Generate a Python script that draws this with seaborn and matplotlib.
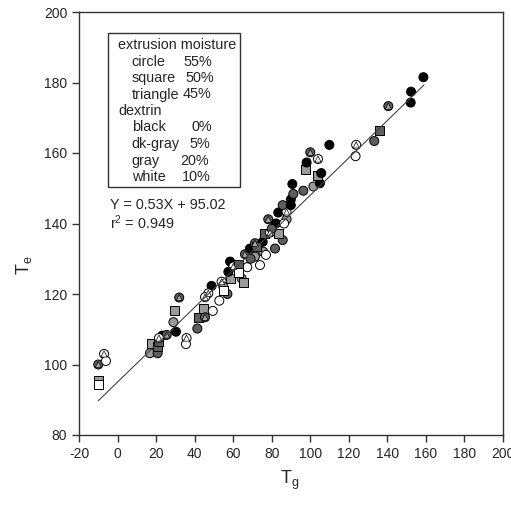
import matplotlib
matplotlib.use("Agg")
import matplotlib.pyplot as plt
import seaborn as sns
import pandas as pd
import numpy as np
from matplotlib.patches import Rectangle

sns.set_style("white")
plt.rcParams['font.family'] = ['Liberation Sans', 'DejaVu Sans']
plt.rcParams['mathtext.default'] = 'regular'
plt.rcParams['axes.unicode_minus'] = False

# ---- data ----
tg = [-10, -7, -6, -10, -10, 17.7, 16.8, 20.8, 20.8, 21.2, 23.2, 25.5, 21.5, 29, 29.5,
      32, 30.3, 35.8, 35.5, 41.4, 44.5, 49.4, 41.9, 45.4, 48.8, 47.1, 52.8, 57, 54, 54.9,
      58.4, 64.4, 65.3, 58.4, 60.1, 57.5, 67.3, 73.9, 71.3, 75.6, 77, 66.1, 68.7, 71.3, 75.3,
      81.7, 85.7, 76, 79.1, 83.4, 78.2, 82.2, 87.7, 86.4, 83.4, 87.7, 85.7, 89.9, 89.9, 91.2,
      90.7, 96.4, 101.6, 105, 103.6, 105.7, 97.6, 98.1, 104, 100, 109.9, 123.8, 123.5, 133.2,
      135.8, 140.5, 152.1, 152.3, 158.7, 63, 69, 72, 80, 63, 55, 45.4]
te = [100, 103, 101, 95.5, 94.3, 106, 103.2, 103.2, 105, 106.5, 108.2, 108.4, 107.5, 112, 115.2,
      119, 109.3, 107.5, 105.8, 110.2, 115.9, 115.2, 113.4, 113.4, 122.3, 120.2, 118.1, 120, 123.5, 122.1,
      124.4, 124.4, 123.2, 129.2, 127.8, 126.3, 127.6, 128.2, 130.6, 132, 131.1, 131.3, 132.9, 134.4, 134.8,
      132.9, 135.3, 137.2, 137.4, 137.2, 141.2, 140, 141.2, 140, 143.1, 143.3, 145.2, 145.2, 146.8, 148.4,
      151.2, 149.3, 150.5, 151.4, 153.5, 154.3, 155.4, 157.3, 158.3, 160.2, 162.3, 162.3, 159.1, 163.4,
      166.3, 173.3, 174.3, 177.4, 181.5, 128.5, 130, 133.5, 138.5, 126, 121, 119.1]
moisture = ['t', 't', 'c', 's', 's', 's', 'c', 'c', 's', 's', 'c', 't', 't', 'c', 's',
            't', 'c', 't', 'c', 'c', 's', 'c', 's', 't', 'c', 't', 'c', 'c', 't', 'c',
            's', 'c', 's', 'c', 't', 'c', 'c', 'c', 'c', 'c', 'c', 't', 'c', 't', 'c',
            'c', 'c', 's', 't', 's', 't', 'c', 'c', 'c', 'c', 't', 'c', 'c', 'c', 'c',
            'c', 'c', 'c', 'c', 's', 'c', 's', 'c', 't', 't', 'c', 't', 'c', 'c',
            's', 't', 'c', 'c', 'c', 's', 'c', 's', 'c', 's', 's', 't']
dextrin = ['d', 'w', 'w', 'g', 'w', 'g', 'g', 'd', 'd', 'd', 'k', 'd', 'w', 'g', 'g',
           'd', 'k', 'w', 'w', 'd', 'g', 'w', 'd', 'd', 'k', 'w', 'w', 'd', 'w', 'g',
           'g', 'g', 'g', 'k', 'w', 'k', 'w', 'w', 'g', 'g', 'w', 'd', 'k', 'd', 'k',
           'd', 'd', 'd', 'w', 'g', 'd', 'k', 'g', 'w', 'k', 'w', 'd', 'k', 'k', 'd',
           'k', 'd', 'g', 'k', 'g', 'k', 'g', 'k', 'w', 'd', 'k', 'w', 'w', 'd',
           'd', 'd', 'k', 'k', 'k', 'd', 'd', 'd', 'd', 'w', 'w', 'w']

slope, intercept = 0.53, 95.02
fit_x_range = [-10, 159]

legend_lines = [("extrusion moisture", ""), ("circle", "55%"), ("square", "50%"),
                ("triangle", "45%"), ("dextrin", ""), ("black", "0%"), ("dk-gray", "5%"),
                ("gray", "20%"), ("white", "10%")]

df = pd.DataFrame({"Tg": tg, "Te": te, "moist": moisture, "dex": dextrin})

fills = {'k': '#000000', 'd': '#5e5e5e', 'g': '#9a9a9a', 'w': '#ffffff'}
inner = {'k': '#707070', 'd': '#a8a8a8', 'g': '#d4d4d4', 'w': '#ffffff'}

fig = plt.figure(figsize=(5.11, 5.17), dpi=100)
ax = fig.add_axes([79/511, 1-435/517, (503-79)/511, (435-12)/517])

# base markers (triangle points sit on a disc, as in the reference)
sns.scatterplot(data=df, x="Tg", y="Te", style="moist", hue="dex",
                markers={'c': 'o', 's': 's', 't': 'o'},
                palette=fills, edgecolor='black', linewidth=0.7, s=42,
                legend=False, ax=ax, zorder=2)
tri = df[df["moist"] == 't']
sns.scatterplot(data=tri, x="Tg", y="Te", hue="dex", marker='^',
                palette=inner, edgecolor='black', linewidth=0.5, s=20,
                legend=False, ax=ax, zorder=2.5)

fx = np.array(fit_x_range, dtype=float)
fit_df = pd.DataFrame({"x": fx, "y": slope*fx + intercept})
sns.lineplot(data=fit_df, x="x", y="y", color='#444444', linewidth=0.8, ax=ax, zorder=3)

ax.set_xlim(-20, 200)
ax.set_ylim(80, 200)
ax.set_xticks(np.arange(-20, 201, 20))
ax.set_yticks(np.arange(80, 201, 20))
ax.tick_params(axis='both', direction='out', length=5, width=1, labelsize=10,
               bottom=True, left=True, top=False, right=False, color='#333333')
for sp in ax.spines.values():
    sp.set_color('#333333')
    sp.set_linewidth(1.0)
ax.set_xlabel("")
ax.set_ylabel("")

fig.text(290/511, 1-480/517, r"T$_{g}$", fontsize=13, ha='center', va='center')
fig.text(24/511, 1-265/517, r"T$_{e}$", fontsize=13, ha='center', va='center', rotation=90)

# legend box
fig.patches.append(Rectangle((108/511, 1-187/517), (240-108)/511, (187-33)/517,
                             transform=fig.transFigure, fill=False, edgecolor='#333333',
                             linewidth=1.0))
ys = [45, 61.7, 78.3, 94.5, 110.7, 127.3, 144, 160.7, 176.7]
val_x = {"55%": 183, "50%": 185, "45%": 183, "0%": 191, "5%": 189.5, "20%": 180.5, "10%": 182}
for (name, val), y in zip(legend_lines, ys):
    xl = 118.3 if val == "" else 131.7
    fig.text(xl/511, 1-y/517, name, fontsize=10.4, ha='left', va='center')
    if val:
        fig.text(val_x[val]/511, 1-y/517, val, fontsize=10.4, ha='left', va='center')

fig.text(110/511, 1-205/517, "Y = 0.53X + 95.02", fontsize=10.4, ha='left', va='center')
fig.text(110/511, 1-223/517, r"r$^{2}$ = 0.949", fontsize=10.4, ha='left', va='center')

fig.savefig("out.png", dpi=100)
